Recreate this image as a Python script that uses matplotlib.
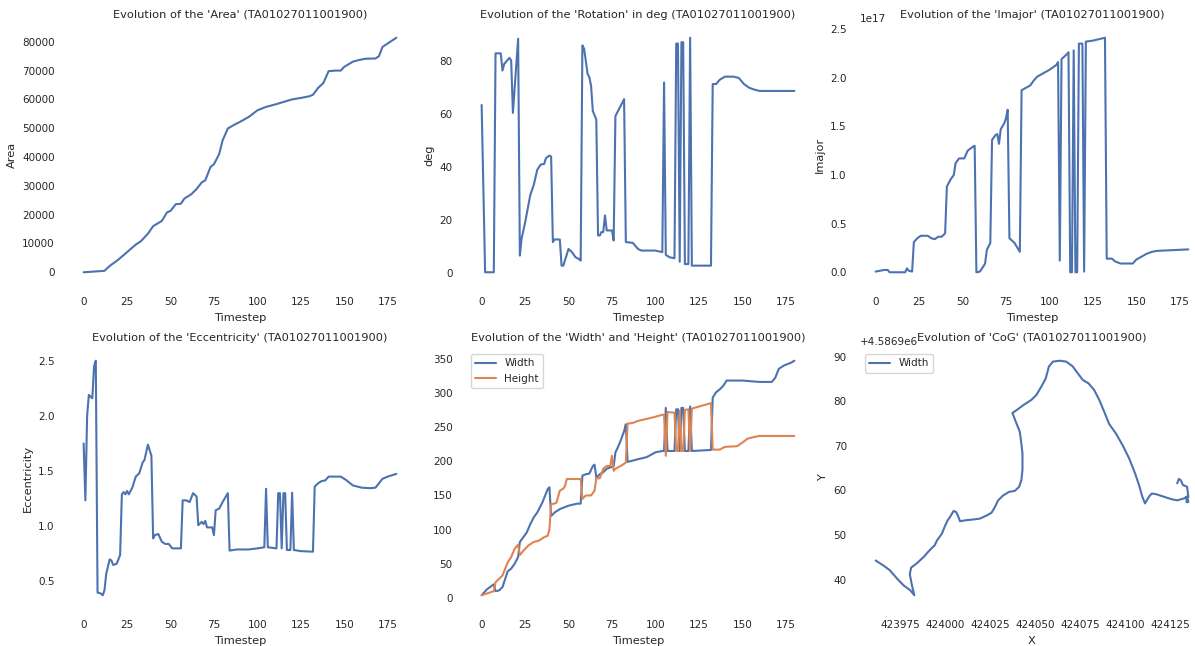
import numpy as np
import matplotlib
matplotlib.use("Agg")
import matplotlib.pyplot as plt
import seaborn as sns

sample = "TA01027011001900"

# Area
area_t = [0, 12, 15, 20, 25, 30, 33, 37, 40, 43, 45, 48, 50, 53, 56, 58, 62, 65, 68, 70,
          73, 75, 78, 80, 83, 87, 90, 95, 100, 105, 110, 115, 120, 125, 130, 132, 135,
          138, 141, 145, 148, 150, 155, 158, 162, 168, 170, 172, 175, 180]
area_v = [0, 500, 2200, 4400, 7000, 9600, 10800, 13400, 16000, 17100, 17800, 20800, 21300,
          23600, 23800, 25600, 27100, 28900, 31200, 31900, 36500, 37500, 41000, 45800, 49900,
          51300, 52200, 53900, 56200, 57400, 58200, 59100, 60000, 60500, 61100, 61600, 64000,
          65700, 69800, 70000, 70000, 71300, 73100, 73600, 74100, 74200, 75000, 78200, 79400,
          81400]

# Rotation (deg)
rot_t = [0, 2, 7, 8, 11, 12, 13, 16, 17, 18, 21, 22, 23, 25, 28, 30, 32, 34, 36, 37, 39, 40,
         41, 42, 45, 46, 47, 50, 52, 54, 56, 57, 58, 59, 61, 62, 63, 64, 66, 67, 68, 69, 70,
         71, 72, 75, 76, 77, 78, 82, 83, 87, 90, 92, 100, 104, 105, 106, 108, 111, 112, 113,
         114, 115, 116, 117, 119, 120, 121, 132, 133, 135, 137, 140, 145, 148, 151, 154, 157,
         160, 180]
rot_v = [63.5, 0.3, 0.3, 83, 83, 76.5, 79, 81.3, 80.3, 60.5, 88.5, 6.6, 13, 19, 29.5, 33.3,
         39, 41, 41.2, 43.4, 44.4, 44, 11.7, 12.7, 12.7, 2.8, 2.8, 9.1, 7.9, 6, 5.3, 4.7, 86,
         84.7, 75.2, 74, 70.7, 61.2, 58, 14.2, 14.2, 15.5, 15.5, 21.8, 16.1, 16.1, 12.3, 59.3,
         60.6, 65.7, 11.7, 11.4, 9.1, 8.5, 8.5, 7.9, 72, 6.9, 6, 5.6, 86.7, 86.7, 4.3, 87.2,
         87.2, 3.4, 3.4, 88.9, 2.8, 2.8, 71.4, 71.4, 73, 74.2, 74.2, 73.7, 71.4, 70, 69.3,
         68.8, 68.8]

# Imajor (x 1e17)
imaj_t = [0, 5, 7, 8, 17, 18, 19, 21, 22, 24, 26, 30, 32, 34, 36, 38, 40, 41, 43, 45, 46, 48,
          51, 53, 56, 57, 58, 60, 62, 63, 64, 66, 67, 69, 70, 71, 72, 74, 75, 76, 77, 80, 83,
          84, 87, 89, 91, 93, 96, 100, 104, 105, 106, 107, 110, 111, 112, 113, 114, 115, 116,
          117, 119, 120, 121, 125, 132, 133, 136, 138, 141, 148, 150, 153, 156, 159, 162, 180]
imaj_v = [0.007, 0.024, 0.024, 0, 0, 0.04, 0.017, 0.007, 0.31, 0.35, 0.375, 0.375, 0.35, 0.34,
          0.365, 0.365, 0.40, 0.88, 0.95, 1.0, 1.12, 1.17, 1.17, 1.25, 1.29, 1.30, 0.0, 0.007,
          0.06, 0.09, 0.23, 0.30, 1.36, 1.41, 1.42, 1.32, 1.47, 1.53, 1.58, 1.67, 0.35, 0.30,
          0.21, 1.87, 1.9, 1.92, 1.97, 2.01, 2.04, 2.08, 2.13, 2.16, 0.12, 2.19, 2.24, 2.26, 0,
          0, 2.28, 0, 0, 2.35, 2.35, 0.007, 2.37, 2.38, 2.41, 0.14, 0.14, 0.11, 0.09, 0.09,
          0.13, 0.16, 0.19, 0.21, 0.22, 0.235]

# Eccentricity
ecc_t = [0, 1, 2, 3, 5, 6, 7, 8, 10, 11, 12, 13, 15, 16, 17, 19, 21, 22, 23, 24, 25, 26, 28,
         30, 32, 34, 35, 37, 39, 40, 41, 43, 45, 47, 49, 51, 56, 57, 59, 61, 63, 65, 66, 68,
         69, 70, 71, 74, 75, 76, 78, 80, 83, 84, 88, 95, 100, 104, 105, 106, 111, 112, 113,
         114, 115, 116, 117, 119, 120, 121, 125, 132, 133, 135, 137, 139, 141, 148, 151, 155,
         160, 165, 168, 170, 172, 175, 180]
ecc_v = [1.75, 1.235, 2.0, 2.19, 2.16, 2.45, 2.5, 0.40, 0.39, 0.375, 0.42, 0.57, 0.70, 0.69,
         0.65, 0.66, 0.74, 1.29, 1.31, 1.29, 1.32, 1.29, 1.35, 1.45, 1.48, 1.58, 1.60, 1.74,
         1.64, 0.89, 0.92, 0.93, 0.86, 0.84, 0.84, 0.80, 0.80, 1.235, 1.235, 1.22, 1.30, 1.27,
         1.01, 1.04, 1.02, 1.05, 0.99, 0.99, 0.92, 1.145, 1.16, 1.22, 1.30, 0.78, 0.79, 0.79,
         0.80, 0.81, 1.34, 0.81, 0.80, 1.30, 1.30, 0.80, 1.30, 1.30, 0.785, 0.785, 1.305,
         0.785, 0.775, 0.77, 1.36, 1.39, 1.41, 1.415, 1.45, 1.45, 1.42, 1.37, 1.35, 1.345,
         1.35, 1.39, 1.43, 1.45, 1.475]

# Width
wid_t = [0, 3, 7, 8, 10, 12, 15, 17, 19, 21, 22, 24, 26, 28, 30, 32, 35, 38, 39, 40, 42, 45,
         50, 55, 57, 58, 60, 62, 64, 65, 66, 68, 70, 72, 75, 76, 77, 78, 80, 82, 83, 84, 90,
         95, 100, 104, 105, 106, 107, 111, 112, 113, 114, 115, 116, 117, 119, 120, 121, 132,
         133, 135, 137, 139, 141, 150, 160, 167, 169, 171, 174, 178, 180]
wid_v = [4, 12.6, 20, 10, 11, 16, 39, 43, 50, 60, 82, 89, 96, 108, 118, 125, 140, 159, 162,
         120, 125, 130, 135, 138, 138, 179, 181, 182, 193, 195, 176, 181, 184, 189, 192, 193,
         213, 218, 230, 244, 254, 199, 203, 206, 213, 215, 215, 278, 215, 215, 276, 276, 215,
         278, 278, 215, 215, 280, 215, 216.5, 293, 301, 305, 310, 318, 318, 316, 316, 322,
         335, 340, 344, 347]

# Height
hei_t = [0, 7, 8, 10, 12, 15, 17, 19, 21, 22, 24, 27, 30, 33, 36, 38, 39, 40, 43, 45, 47, 48,
         49, 57, 58, 60, 63, 65, 66, 68, 70, 72, 74, 75, 76, 77, 80, 83, 84, 87, 90, 100, 104,
         105, 106, 107, 111, 112, 113, 114, 115, 116, 117, 119, 120, 121, 132, 133, 137, 140,
         147, 150, 153, 157, 160, 180]
hei_v = [4, 10, 23, 28, 33, 52, 60, 72, 78, 63, 69, 77, 82, 84, 89, 91, 100, 137, 139, 157,
         160, 164, 174, 174, 145, 150, 150, 157, 175, 175, 189, 193, 193, 208, 186, 189, 193,
         198, 255, 256, 259, 265, 268, 268, 208, 272, 271, 215, 215, 274, 215, 215, 275, 276,
         215, 277, 285, 217, 217, 221, 222, 227, 233, 235.5, 237, 237]

# Centre of gravity (X, Y)
cog_x = [423961.2, 423965.8, 423969.1, 423973.2, 423976.8, 423980.5, 423982.7, 423981.4,
         423980.2, 423980.9, 423984.2, 423987.9, 423991.2, 423994.0, 423995.3, 423998.0,
         423999.5, 424001.2, 424002.6, 424004.5, 424005.9, 424007.2, 424008.1, 424010.9,
         424015.5, 424019.2, 424022.9, 424025.6, 424027.5, 424029.3, 424032.1, 424035.4,
         424038.5, 424040.9, 424042.2, 424042.8, 424042.8, 424042.2, 424041.3, 424039.5,
         424037.2, 424039.5, 424043.1, 424047.7, 424050.5, 424053.3, 424055.7, 424057.5,
         424059.7, 424063.4, 424067.1, 424070.8, 424073.5, 424076.3, 424079.6, 424082.7,
         424085.5, 424088.3, 424091.0, 424094.7, 424098.4, 424102.1, 424105.4, 424107.6,
         424109.4, 424110.9, 424113.1, 424114.6, 424116.8, 424121.4, 424126.0, 424128.8,
         424132.5, 424134.3, 424135.0, 424134.0, 424134.0, 424135.0, 424134.3, 424133.5,
         424132.0, 424130.8, 424129.7, 424129.0, 424128.8]
cog_y = [44.3, 43.1, 42.1, 40.2, 38.7, 37.6, 36.5, 38.7, 41.2, 42.7, 43.7, 45.1, 46.6, 47.7,
         48.8, 50.3, 51.8, 53.3, 54.1, 55.4, 55.2, 54.1, 53.1, 53.3, 53.5, 53.7, 54.4, 55.0,
         56.3, 57.8, 58.9, 59.7, 59.9, 60.8, 62.3, 64.6, 68.3, 70.5, 73.2, 75.0, 77.4, 78.0,
         79.1, 80.3, 81.4, 83.3, 85.1, 87.8, 88.9, 89.1, 88.9, 87.8, 86.3, 84.8, 84.0, 82.5,
         80.3, 77.6, 74.9, 72.8, 70.2, 67.2, 63.8, 61.2, 58.6, 57.1, 58.6, 59.3, 59.2, 58.6,
         58.0, 57.8, 58.2, 58.6, 57.4, 57.4, 58.6, 58.6, 60.8, 61.0, 61.2, 62.3, 62.6, 61.8,
         61.6]
cog_y = [4586900 + v for v in cog_y]

sns.set_theme(style="white", font_scale=0.68)
blue, orange = sns.color_palette("deep")[:2]

fig = plt.figure(figsize=(11.95, 6.46), dpi=100)
W, H = 1195.0, 646.0
lefts = [68, 466, 860]
width = 344
rows = [(26, 284), (349, 607)]

axes = []
for top, bottom in rows:
    for left in lefts:
        ax = fig.add_axes([left / W, 1 - bottom / H, width / W, (bottom - top) / H])
        for s in ax.spines.values():
            s.set_visible(False)
        axes.append(ax)

ax1, ax2, ax3, ax4, ax5, ax6 = axes

ax1.plot(area_t, area_v, color=blue)
ax1.set_title(f"Evolution of the 'Area' ({sample})", y=1.0)
ax1.set_xlabel("Timestep")
ax1.set_ylabel("Area")

ax2.plot(rot_t, rot_v, color=blue)
ax2.set_title(f"Evolution of the 'Rotation' in deg ({sample})", y=1.0)
ax2.set_xlabel("Timestep")
ax2.set_ylabel("deg")

ax3.plot(imaj_t, np.array(imaj_v) * 1e17, color=blue)
ax3.set_title(f"Evolution of the 'Imajor' ({sample})", y=1.0)
ax3.set_xlabel("Timestep")
ax3.set_ylabel("Imajor")

ax4.plot(ecc_t, ecc_v, color=blue)
ax4.set_title(f"Evolution of the 'Eccentricity' ({sample})", y=1.0)
ax4.set_xlabel("Timestep")
ax4.set_ylabel("Eccentricity")

ax5.plot(wid_t, wid_v, color=blue, label="Width")
ax5.plot(hei_t, hei_v, color=orange, label="Height")
ax5.set_title(f"Evolution of the 'Width' and 'Height' ({sample})", y=1.0)
ax5.set_xlabel("Timestep")
ax5.legend(loc="upper left")

ax6.plot(cog_x, cog_y, color=blue, label="Width")
ax6.set_title(f"Evolution of 'CoG' ({sample})", y=1.0)
ax6.set_xlabel("X")
ax6.set_ylabel("Y")
ax6.legend(loc="upper left")

fig.savefig("out.png", dpi=100)
